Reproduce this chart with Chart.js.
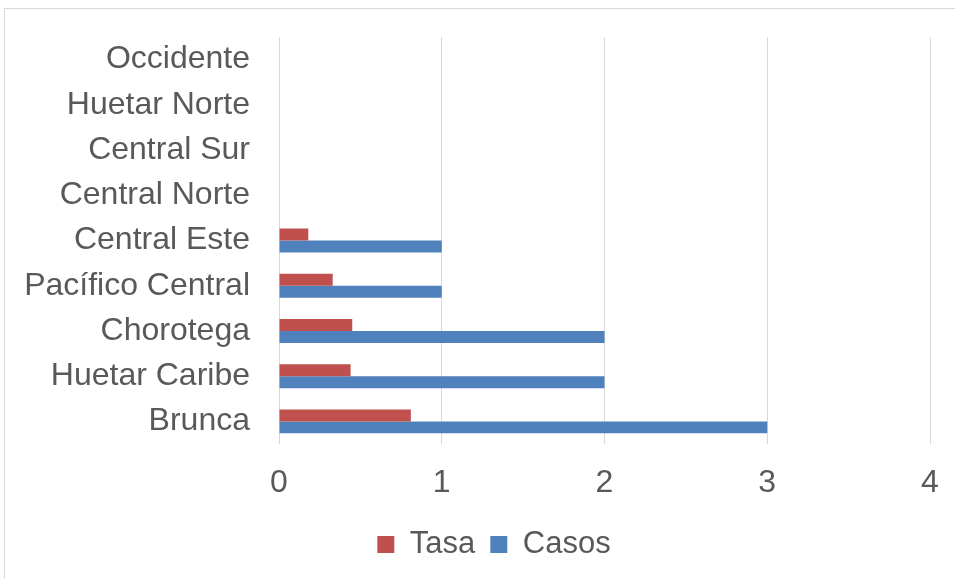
<!DOCTYPE html>
<html>
<head>
<meta charset="utf-8">
<script src="https://cdn.jsdelivr.net/npm/chart.js@4"></script>
<style>
    html, body { margin: 0; padding: 0; background: #fff; overflow: hidden; }
    #frame { position: absolute; left: 4px; top: 8px; width: 1000px; height: 1000px; border: 1px solid #d9d9d9; }
    #wrap { position: absolute; left: 0; top: 0; width: 955px; height: 579px; }
</style>
</head>
<body>
<div id="frame"></div>
<div id="wrap"><canvas id="chart-bars"></canvas></div>
<script>
// categories, top to bottom as drawn
var regiones = ["Occidente", "Huetar Norte", "Central Sur", "Central Norte", "Central Este",
    "Pacífico Central", "Chorotega", "Huetar Caribe", "Brunca"];
var tasa = [0, 0, 0, 0, 0.18, 0.33, 0.45, 0.44, 0.81];
var casos = [0, 0, 0, 0, 1, 1, 2, 2, 3];
var xTicks = [0, 1, 2, 3, 4];

var ctx = document.getElementById("chart-bars").getContext("2d");

new Chart(ctx, {
    type: "bar",
    plugins: [{
        id: 'legendShift',
        afterLayout(chart) {
            // the legend is centred on the whole original chart, which is wider than the picture
            chart.legend.left += 29;
            chart.legend.right += 29;
        }
    }],
    data: {
        labels: regiones,
        datasets: [{
                label: "Tasa",
                borderWidth: 0,
                backgroundColor: "#c0504d",
                data: tasa,
                barPercentage: 1,
                categoryPercentage: 0.53
            },
            {
                label: "Casos",
                borderWidth: 0,
                backgroundColor: "#4f81bd",
                data: casos,
                barPercentage: 1,
                categoryPercentage: 0.53
            },
        ],
    },
    options: {
        indexAxis: 'y',
        responsive: true,
        maintainAspectRatio: false,
        animation: false,
        layout: {
            padding: { left: 0, right: 25, top: 37, bottom: 9 }
        },
        plugins: {
            legend: {
                display: true,
                position: 'bottom',
                labels: {
                    boxWidth: 17,
                    boxHeight: 17,
                    padding: 15,
                    color: "#595959",
                    font: { size: 31, family: "Liberation Sans" }
                }
            },
            tooltip: { enabled: false }
        },
        scales: {
            x: {
                min: 0,
                max: 4,
                afterFit: function(scale) {
                    scale.height = 70;
                    scale.paddingLeft = 0;
                    scale.paddingRight = 0;
                },
                afterBuildTicks: function(scale) {
                    scale.ticks = xTicks.map(function(v) { return { value: v }; });
                },
                grid: {
                    display: true,
                    drawTicks: false,
                    color: "#d9d9d9",
                    lineWidth: 1
                },
                border: { display: false },
                ticks: {
                    padding: 20,
                    color: "#595959",
                    font: { size: 32, family: "Liberation Sans" }
                }
            },
            y: {
                afterFit: function(scale) {
                    scale.width = 279;
                    scale.paddingTop = 0;
                    scale.paddingBottom = 0;
                },
                grid: { display: false, drawTicks: false },
                border: { display: false },
                ticks: {
                    padding: 29,
                    color: "#595959",
                    font: { size: 32, family: "Liberation Sans" }
                }
            }
        }
    }
});
</script>
</body>
</html>
